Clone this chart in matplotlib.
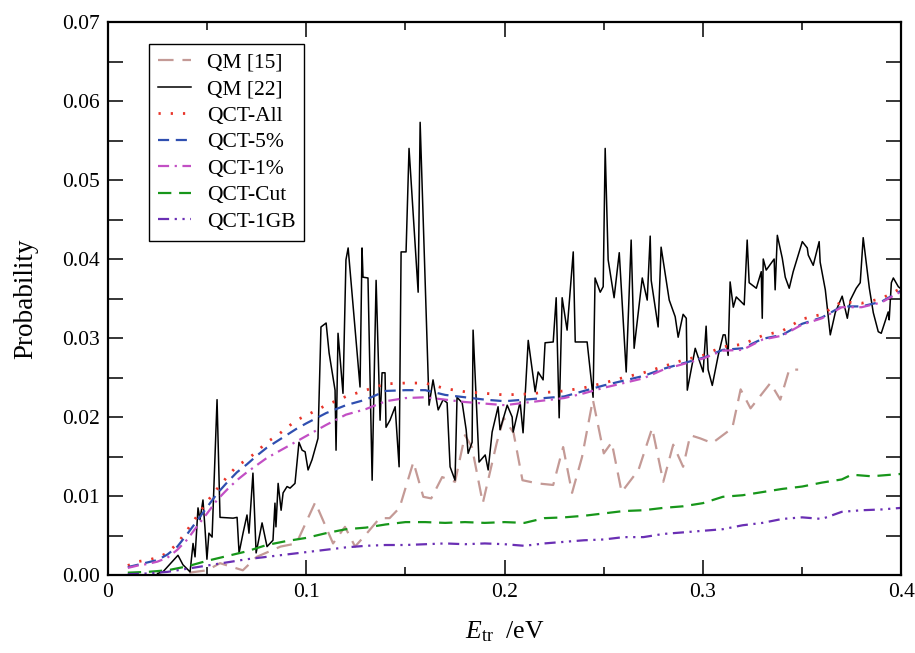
import matplotlib

matplotlib.use("Agg")

import matplotlib.pyplot as plt
from matplotlib.ticker import FuncFormatter, MultipleLocator

# energy grid used for the QCT curves (eV)
e_qct = [0.010, 0.015, 0.020, 0.025, 0.030, 0.035, 0.040, 0.045, 0.050, 0.055,
         0.060, 0.065, 0.070, 0.075, 0.080, 0.085, 0.090, 0.095, 0.100, 0.110,
         0.120, 0.130, 0.140, 0.150, 0.160, 0.170, 0.180, 0.190, 0.200, 0.210,
         0.220, 0.230, 0.240, 0.250, 0.260, 0.270, 0.280, 0.290, 0.300, 0.310,
         0.320, 0.330, 0.340, 0.350, 0.360, 0.370, 0.380, 0.390, 0.400]

qct_all = [0.0012, 0.0017, 0.0019, 0.0022, 0.0028, 0.0040, 0.0057, 0.0075, 0.0093, 0.0109,
           0.0124, 0.0138, 0.0146, 0.0156, 0.0168, 0.0176, 0.0186, 0.0196, 0.0202, 0.0215,
           0.0226, 0.0234, 0.0242, 0.0243, 0.0243, 0.0236, 0.0232, 0.0230, 0.0228, 0.0229,
           0.0231, 0.0233, 0.0237, 0.0243, 0.0250, 0.0256, 0.0264, 0.0272, 0.0278, 0.0289,
           0.0292, 0.0303, 0.0309, 0.0324, 0.0330, 0.0346, 0.0344, 0.0350, 0.0363]

qct_5 = [0.0010, 0.0013, 0.0016, 0.0019, 0.0026, 0.0036, 0.0052, 0.0069, 0.0086, 0.0103,
         0.0117, 0.0130, 0.0140, 0.0151, 0.0161, 0.0169, 0.0177, 0.0185, 0.0192, 0.0205,
         0.0215, 0.0222, 0.0233, 0.0234, 0.0234, 0.0228, 0.0225, 0.0222, 0.0220, 0.0222,
         0.0224, 0.0226, 0.0233, 0.0240, 0.0246, 0.0252, 0.0261, 0.0268, 0.0275, 0.0285,
         0.0287, 0.0299, 0.0304, 0.0318, 0.0326, 0.0340, 0.0340, 0.0346, 0.0360]

qct_1 = [0.0009, 0.0012, 0.0014, 0.0017, 0.0022, 0.0032, 0.0045, 0.0062, 0.0078, 0.0095,
         0.0108, 0.0120, 0.0130, 0.0139, 0.0148, 0.0155, 0.0162, 0.0169, 0.0176, 0.0190,
         0.0203, 0.0210, 0.0220, 0.0224, 0.0225, 0.0222, 0.0219, 0.0217, 0.0215, 0.0218,
         0.0221, 0.0224, 0.0230, 0.0237, 0.0243, 0.0249, 0.0260, 0.0267, 0.0274, 0.0284,
         0.0285, 0.0298, 0.0303, 0.0317, 0.0325, 0.0339, 0.0339, 0.0345, 0.0359]

e_cut = [0.010, 0.020, 0.030, 0.040, 0.050, 0.060, 0.070, 0.080, 0.090, 0.100,
         0.110, 0.120, 0.130, 0.140, 0.150, 0.160, 0.170, 0.180, 0.190, 0.200,
         0.210, 0.220, 0.230, 0.240, 0.250, 0.260, 0.270, 0.280, 0.290, 0.300,
         0.310, 0.320, 0.330, 0.340, 0.350, 0.360, 0.370, 0.375, 0.385, 0.400]
qct_cut = [0.0003, 0.0004, 0.0006, 0.0011, 0.0018, 0.0024, 0.0030, 0.0038, 0.0043, 0.0047,
           0.0053, 0.0058, 0.0060, 0.0064, 0.0067, 0.0067, 0.0066, 0.0067, 0.0066, 0.0067,
           0.0066, 0.0072, 0.0073, 0.0075, 0.0078, 0.0081, 0.0082, 0.0085, 0.0087, 0.0091,
           0.0099, 0.0101, 0.0105, 0.0109, 0.0112, 0.0117, 0.0121, 0.0127, 0.0125, 0.0128]

e_1gb = [0.010, 0.020, 0.030, 0.040, 0.050, 0.060, 0.070, 0.080, 0.090, 0.100,
         0.110, 0.120, 0.130, 0.140, 0.150, 0.160, 0.170, 0.180, 0.190, 0.200,
         0.210, 0.220, 0.230, 0.240, 0.250, 0.260, 0.270, 0.280, 0.290, 0.300,
         0.310, 0.320, 0.330, 0.340, 0.350, 0.360, 0.370, 0.380, 0.390, 0.400]
qct_1gb = [0.0001, 0.0002, 0.0004, 0.0008, 0.0012, 0.0016, 0.0020, 0.0023, 0.0026, 0.0029,
           0.0032, 0.0035, 0.0037, 0.0038, 0.0038, 0.0039, 0.0040, 0.0039, 0.0040, 0.0039,
           0.0037, 0.0040, 0.0042, 0.0044, 0.0045, 0.0048, 0.0048, 0.0052, 0.0054, 0.0056,
           0.0058, 0.0063, 0.0066, 0.0071, 0.0073, 0.0071, 0.0080, 0.0082, 0.0083, 0.0085]

# quantum results, ref. [15]
e_qm15 = [0.041, 0.050, 0.0565, 0.068, 0.075, 0.087, 0.095, 0.1045, 0.1135, 0.1195,
          0.1246, 0.1306, 0.137, 0.142, 0.147, 0.154, 0.159, 0.163, 0.1685, 0.175,
          0.180, 0.1835, 0.189, 0.196, 0.1995, 0.2045, 0.209, 0.2165, 0.2245, 0.2295,
          0.234, 0.239, 0.2445, 0.250, 0.254, 0.259, 0.2675, 0.2744, 0.280, 0.285,
          0.290, 0.2936, 0.2986, 0.3047, 0.3148, 0.319, 0.324, 0.334, 0.339, 0.3435,
          0.348]
p_qm15 = [0.0003, 0.0006, 0.0015, 0.0006, 0.0023, 0.0036, 0.0040, 0.0092, 0.0040, 0.0061,
          0.0036, 0.0053, 0.0072, 0.0072, 0.0085, 0.0143, 0.0099, 0.0097, 0.0124, 0.0118,
          0.0177, 0.0162, 0.0091, 0.0167, 0.0199, 0.0180, 0.0120, 0.0116, 0.0114, 0.0162,
          0.0104, 0.0149, 0.0222, 0.0154, 0.0168, 0.0105, 0.0133, 0.0186, 0.0118, 0.0165,
          0.0137, 0.0177, 0.0173, 0.0167, 0.0186, 0.0235, 0.0211, 0.0243, 0.0222, 0.0260,
          0.0260]

# quantum results, ref. [22]
e_qm22 = [0.0250, 0.0277, 0.0353, 0.0378, 0.0414, 0.0429, 0.0439, 0.0454, 0.0464, 0.0479,
          0.0489, 0.0499, 0.0509, 0.0525, 0.0550, 0.0565, 0.0631, 0.0651, 0.0661, 0.0681,
          0.0701, 0.0711, 0.0731, 0.0747, 0.0777, 0.0802, 0.0832, 0.0842, 0.0847, 0.0858,
          0.0873, 0.0883, 0.0903, 0.0918, 0.0943, 0.0963, 0.0979, 0.0994, 0.1009, 0.1029,
          0.1059, 0.1074, 0.1100, 0.1115, 0.1145, 0.1150, 0.1160, 0.1185, 0.1200, 0.1211,
          0.1271, 0.1281, 0.1286, 0.1311, 0.1332, 0.1352, 0.1372, 0.1382, 0.1397, 0.1402,
          0.1422, 0.1448, 0.1468, 0.1478, 0.1503, 0.1518, 0.1564, 0.1574, 0.1619, 0.1639,
          0.1665, 0.1690, 0.1710, 0.1725, 0.1750, 0.1760, 0.1786, 0.1806, 0.1816, 0.1836,
          0.1841, 0.1871, 0.1902, 0.1917, 0.1937, 0.1967, 0.1977, 0.2013, 0.2038, 0.2043,
          0.2078, 0.2093, 0.2119, 0.2154, 0.2169, 0.2194, 0.2204, 0.2245, 0.2260, 0.2275,
          0.2290, 0.2315, 0.2346, 0.2356, 0.2416, 0.2446, 0.2456, 0.2482, 0.2497, 0.2507,
          0.2522, 0.2552, 0.2578, 0.2613, 0.2638, 0.2653, 0.2694, 0.2719, 0.2734, 0.2739,
          0.2774, 0.2789, 0.2830, 0.2860, 0.2875, 0.2900, 0.2916, 0.2921, 0.2961, 0.3001,
          0.3016, 0.3026, 0.3047, 0.3077, 0.3102, 0.3112, 0.3127, 0.3137, 0.3153, 0.3168,
          0.3208, 0.3223, 0.3233, 0.3269, 0.3294, 0.3299, 0.3304, 0.3319, 0.3359, 0.3364,
          0.3375, 0.3400, 0.3415, 0.3435, 0.3455, 0.3501, 0.3526, 0.3531, 0.3556, 0.3586,
          0.3591, 0.3617, 0.3642, 0.3667, 0.3702, 0.3728, 0.3743, 0.3773, 0.3793, 0.3808,
          0.3839, 0.3859, 0.3884, 0.3899, 0.3934, 0.3939, 0.3950, 0.3960, 0.3985, 0.4000]
p_qm22 = [0.0002, 0.0004, 0.0025, 0.0013, 0.0004, 0.0040, 0.0023, 0.0085, 0.0070, 0.0095,
          0.0060, 0.0020, 0.0053, 0.0048, 0.0222, 0.0073, 0.0072, 0.0073, 0.0028, 0.0053,
          0.0076, 0.0053, 0.0129, 0.0028, 0.0066, 0.0036, 0.0044, 0.0091, 0.0061, 0.0116,
          0.0082, 0.0104, 0.0112, 0.0110, 0.0116, 0.0168, 0.0158, 0.0156, 0.0133, 0.0146,
          0.0173, 0.0314, 0.0319, 0.0281, 0.0234, 0.0158, 0.0306, 0.0230, 0.0399, 0.0414,
          0.0238, 0.0414, 0.0377, 0.0376, 0.0120, 0.0373, 0.0196, 0.0256, 0.0256, 0.0187,
          0.0196, 0.0213, 0.0137, 0.0409, 0.0409, 0.0540, 0.0358, 0.0573, 0.0215, 0.0247,
          0.0209, 0.0222, 0.0218, 0.0137, 0.0120, 0.0225, 0.0218, 0.0184, 0.0154, 0.0168,
          0.0310, 0.0143, 0.0152, 0.0133, 0.0181, 0.0213, 0.0184, 0.0215, 0.0200, 0.0181,
          0.0219, 0.0180, 0.0297, 0.0232, 0.0257, 0.0247, 0.0294, 0.0295, 0.0351, 0.0199,
          0.0351, 0.0310, 0.0409, 0.0295, 0.0295, 0.0225, 0.0376, 0.0358, 0.0365, 0.0540,
          0.0399, 0.0351, 0.0408, 0.0257, 0.0424, 0.0287, 0.0376, 0.0348, 0.0429, 0.0373,
          0.0314, 0.0415, 0.0348, 0.0327, 0.0301, 0.0330, 0.0325, 0.0234, 0.0287, 0.0257,
          0.0315, 0.0260, 0.0240, 0.0278, 0.0304, 0.0304, 0.0278, 0.0371, 0.0339, 0.0352,
          0.0342, 0.0424, 0.0370, 0.0363, 0.0384, 0.0325, 0.0400, 0.0386, 0.0400, 0.0361,
          0.0430, 0.0401, 0.0377, 0.0363, 0.0384, 0.0422, 0.0414, 0.0405, 0.0392, 0.0422,
          0.0396, 0.0361, 0.0304, 0.0332, 0.0353, 0.0325, 0.0348, 0.0363, 0.0370, 0.0427,
          0.0363, 0.0332, 0.0308, 0.0306, 0.0333, 0.0323, 0.0370, 0.0376, 0.0365, 0.0362]

plt.rcParams["font.family"] = ["Liberation Serif", "DejaVu Serif"]
plt.rcParams["mathtext.fontset"] = "custom"
plt.rcParams["mathtext.rm"] = "Liberation Serif"
plt.rcParams["mathtext.it"] = "Liberation Serif:italic"

fig = plt.figure(figsize=(9.15, 6.53), dpi=100)
ax = fig.add_axes([0.118, 0.1194, 0.867, 0.8469])

ax.plot(e_qm15, p_qm15, color="#c49a96", lw=1.6, dashes=(7, 4), label="QM [15]")
ax.plot(e_qm22, p_qm22, color="black", lw=1.1, label="QM [22]")
ax.plot(e_qct, qct_all, color="#e8352a", lw=2.0, dashes=(0.8, 3.6),
        dash_capstyle="butt", label="QCT-All")
ax.plot(e_qct, qct_5, color="#2f4fb0", lw=1.6, dashes=(5, 3), label="QCT-5%")
ax.plot(e_qct, qct_1, color="#c24fc4", lw=1.6, dashes=(5, 2.5, 1, 2.5), label="QCT-1%")
ax.plot(e_cut, qct_cut, color="#17961a", lw=1.6, dashes=(6, 3.5), label="QCT-Cut")
ax.plot(e_1gb, qct_1gb, color="#6a2fb4", lw=1.6, dashes=(5, 2.5, 1, 2.5, 1, 2.5),
        label="QCT-1GB")

ax.set_xlim(0, 0.4)
ax.set_ylim(0, 0.07)
ax.xaxis.set_major_locator(MultipleLocator(0.1))
ax.xaxis.set_minor_locator(MultipleLocator(0.05))
ax.yaxis.set_major_locator(MultipleLocator(0.01))
ax.yaxis.set_minor_locator(MultipleLocator(0.005))
ax.xaxis.set_major_formatter(FuncFormatter(lambda v, _: "0" if abs(v) < 1e-9 else f"{v:.1f}"))
ax.yaxis.set_major_formatter(FuncFormatter(lambda v, _: f"{v:.2f}"))

ax.tick_params(which="both", direction="in", top=True, right=True, width=1.1,
               labelsize=15.5, pad=6)
ax.tick_params(axis="x", which="major", length=11)
ax.tick_params(axis="x", which="minor", length=6)
ax.tick_params(axis="y", which="both", length=11)
for s in ax.spines.values():
    s.set_linewidth(1.6)

ax.set_xlabel(r"$E_{\rm tr}$  /eV", fontsize=18.5, labelpad=12)
ax.set_ylabel("Probability", fontsize=19.5, labelpad=17)

leg = ax.legend(loc="upper left", bbox_to_anchor=(0.052, 0.96), fontsize=15.5,
                frameon=True, fancybox=False, edgecolor="black", framealpha=1,
                handlelength=1.55, handletextpad=0.75, labelspacing=0.3,
                borderpad=0.4, borderaxespad=0)
leg.get_frame().set_linewidth(1.0)

fig.savefig("out.png", dpi=100)
